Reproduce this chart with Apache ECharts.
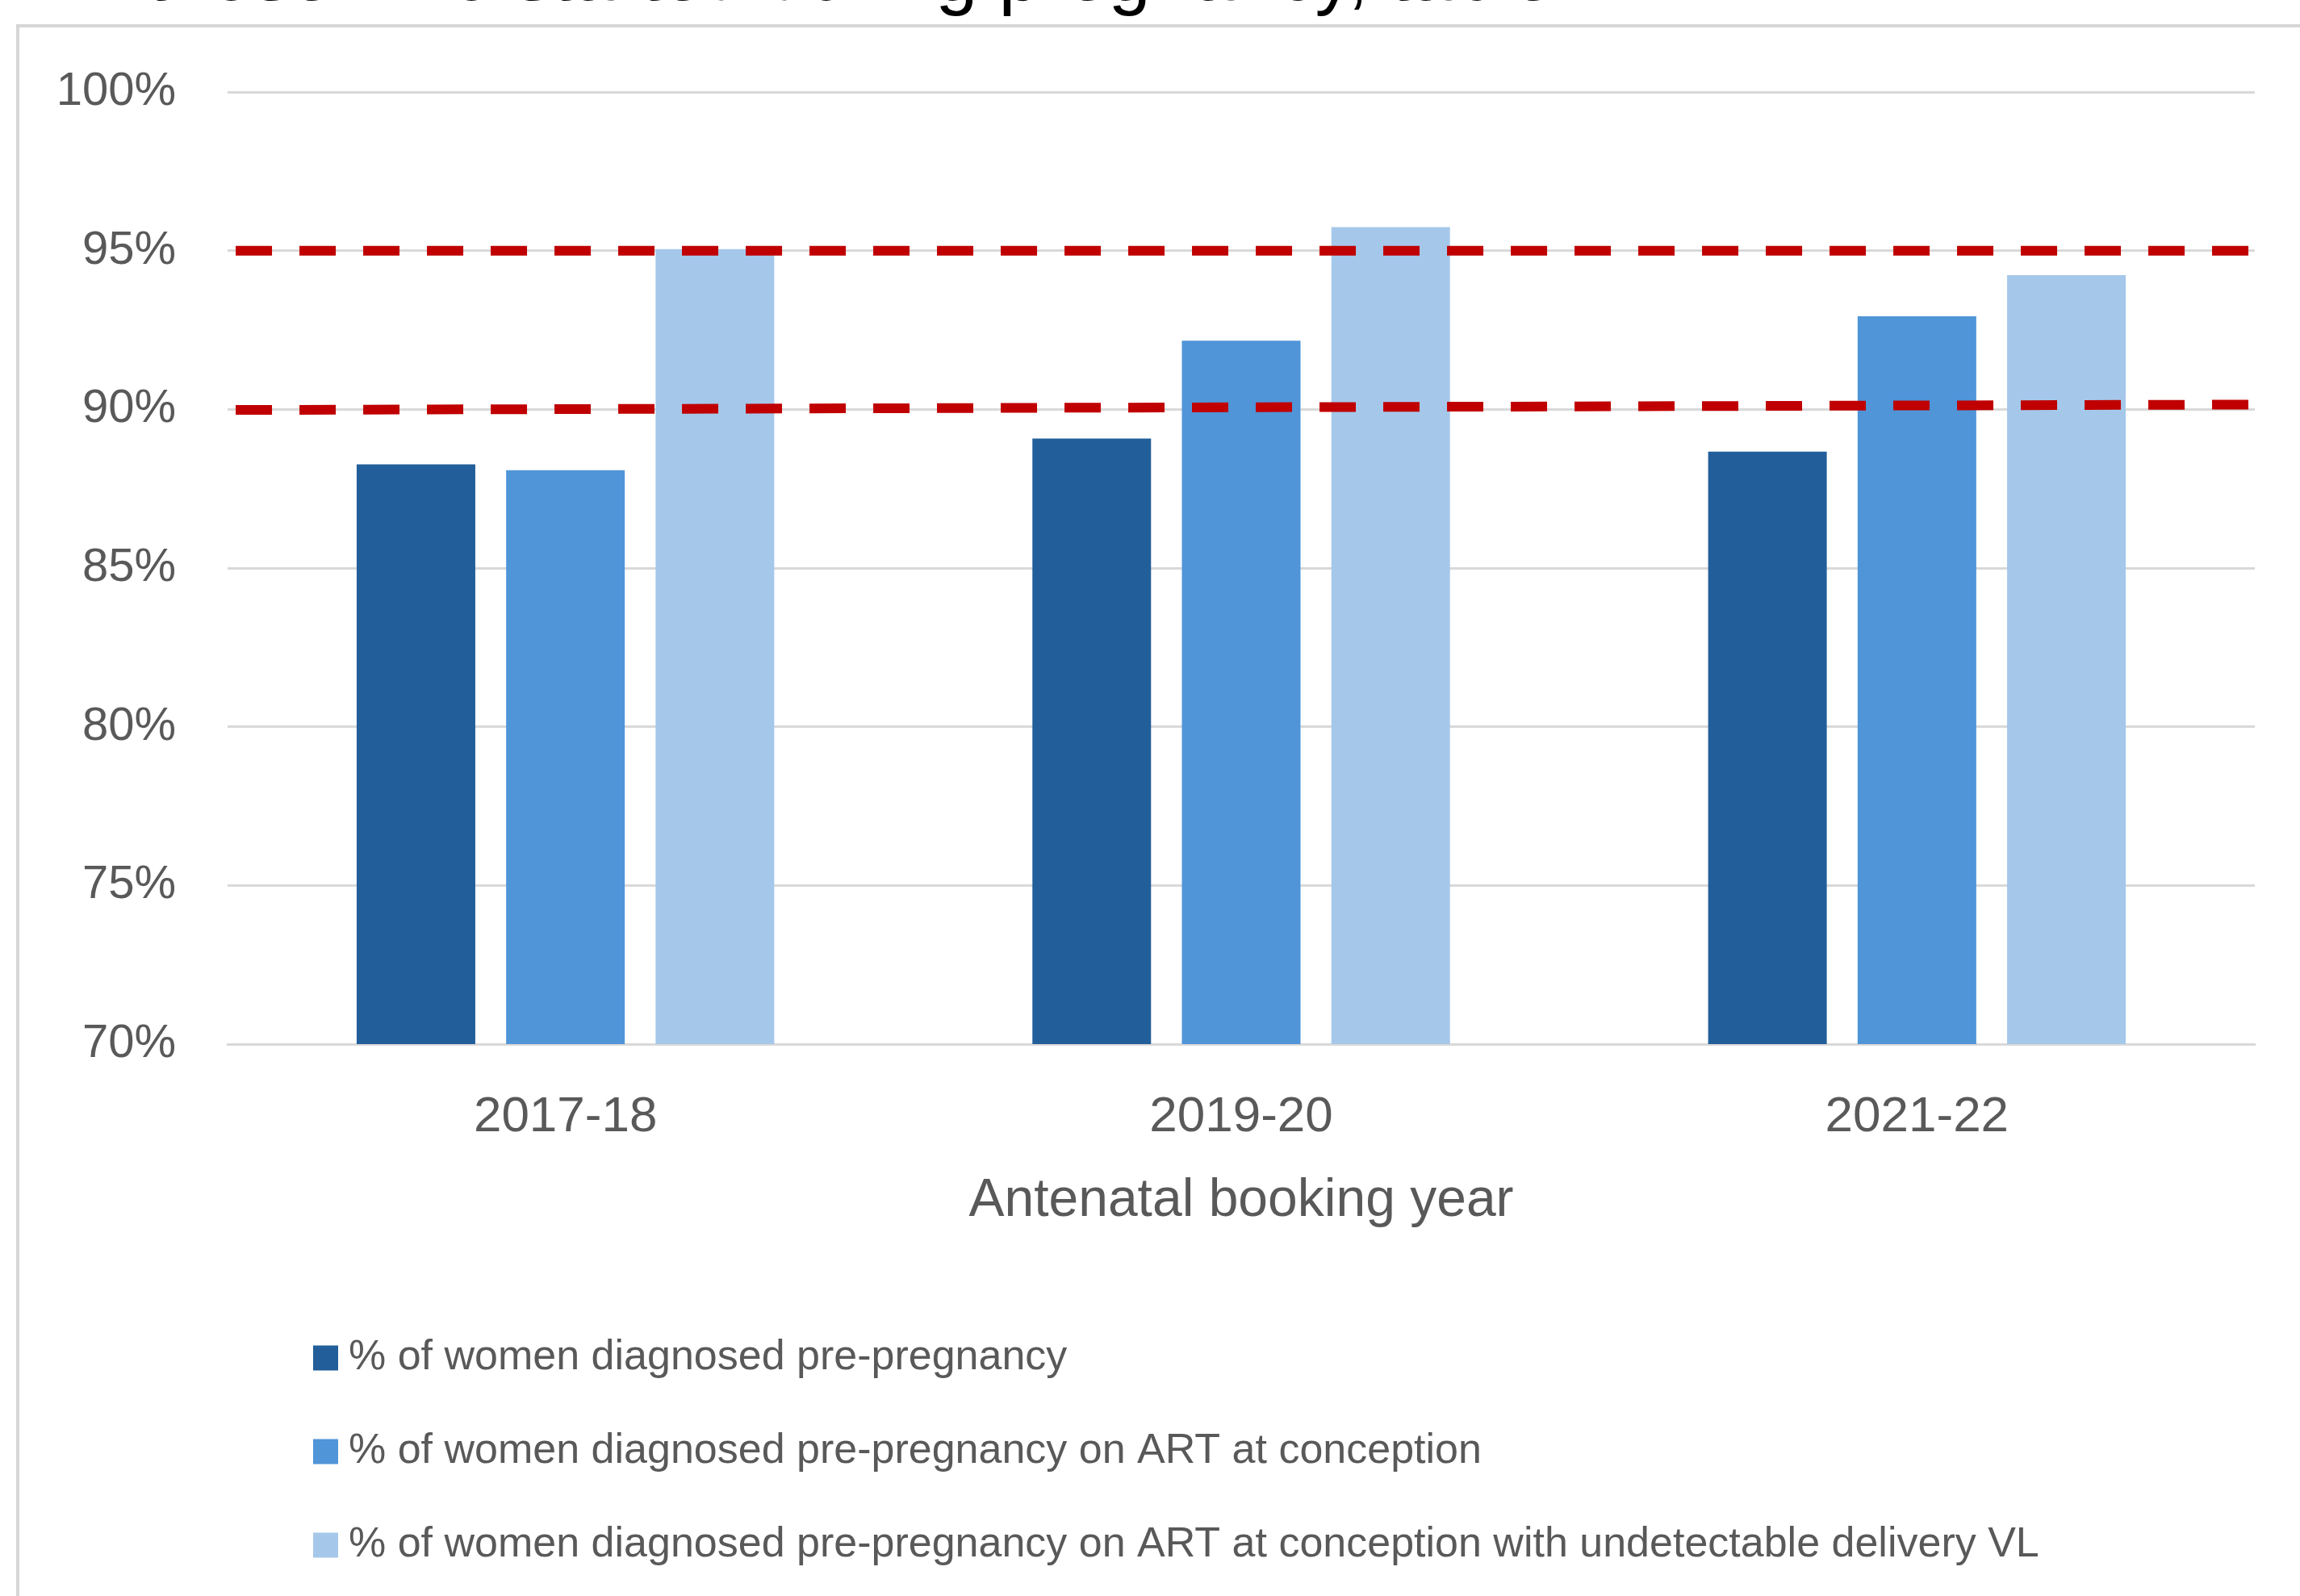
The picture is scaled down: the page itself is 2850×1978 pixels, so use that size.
<!DOCTYPE html>
<html>
<head>
<meta charset="utf-8">
<script src="https://cdn.jsdelivr.net/npm/echarts@6/dist/echarts.min.js"></script>
<style>
html,body{margin:0;padding:0;background:#fff;}
#chart{width:2850px;height:1978px;}
</style>
</head>
<body>
<div id="chart"></div>
<script>
const categories = ['2017-18', '2019-20', '2021-22'];
const seriesNames = [
  '% of women diagnosed pre-pregnancy',
  '% of women diagnosed pre-pregnancy on ART at conception',
  '% of women diagnosed pre-pregnancy on ART at conception with undetectable delivery VL'
];
const diagnosedPre = [88.27, 89.08, 88.67];
const onArt = [88.08, 92.16, 92.93];
const undetectable = [95.05, 95.74, 94.23];
const target95 = [[0.004, 95.0], [0.998, 95.0]];
const target90 = [[0.004, 89.98], [0.998, 90.15]];
const yTicks = [70, 75, 80, 85, 90, 95, 100];
const topText = 'those who started during pregnancy, table 4.';

const colors = ['#225E9A', '#4F95D8', '#A5C8EA'];
const font = '"Liberation Sans", Arial, sans-serif';
const grey = '#595959';

const chart = echarts.init(document.getElementById('chart'));
const barSeries = [diagnosedPre, onArt, undetectable].map((d, i) => ({
  name: seriesNames[i],
  type: 'bar',
  data: d,
  barWidth: 147,
  barGap: '26%',
  itemStyle: { color: colors[i] },
  z: 2
}));
const lineStyle = { color: '#C00000', width: 12, type: [45, 34], cap: 'butt' };
chart.setOption({
  backgroundColor: '#ffffff',
  animation: false,
  color: colors,
  graphic: [
    { type: 'rect', shape: { x: 22, y: 32, width: 3200, height: 3200 }, style: { fill: 'none', stroke: '#D6D6D6', lineWidth: 4 }, z: -10 },
    { type: 'text', x: 182, y: -26, style: { text: topText, font: '94px "Liberation Sans", sans-serif', fill: '#000', textVerticalAlign: 'middle' }, z: 10 }
  ],
  grid: { left: 282, right: 56, top: 114, bottom: 684, containLabel: false },
  legend: {
    orient: 'vertical',
    left: 383,
    top: 1648,
    itemWidth: 31,
    itemHeight: 31,
    itemGap: 56,
    icon: 'rect',
    data: seriesNames,
    textStyle: { fontSize: 52, lineHeight: 60, color: grey, fontFamily: font, padding: [0, 0, 0, 8] }
  },
  xAxis: [
    {
      type: 'category',
      data: categories,
      axisLine: { show: true, lineStyle: { color: '#D9D9D9', width: 3 } },
      axisTick: { show: false },
      axisLabel: { fontSize: 62, color: grey, margin: 60, fontFamily: font },
      name: 'Antenatal booking year',
      nameLocation: 'middle',
      nameGap: 162,
      nameTextStyle: { fontSize: 66, color: grey, fontFamily: font }
    },
    { type: 'value', min: 0, max: 1, show: false }
  ],
  yAxis: {
    type: 'value',
    min: yTicks[0],
    max: yTicks[yTicks.length - 1],
    interval: 5,
    axisLine: { show: false },
    axisTick: { show: false },
    splitLine: { lineStyle: { color: '#D9D9D9', width: 3 } },
    axisLabel: { formatter: '{value}%', fontSize: 58, color: grey, margin: 64, fontFamily: font, padding: [10, 0, 0, 0] }
  },
  series: barSeries.concat([
    { type: 'line', xAxisIndex: 1, data: target95, symbol: 'none', lineStyle: lineStyle, z: 5, silent: true },
    { type: 'line', xAxisIndex: 1, data: target90, symbol: 'none', lineStyle: lineStyle, z: 5, silent: true }
  ])
});
</script>
</body>
</html>
